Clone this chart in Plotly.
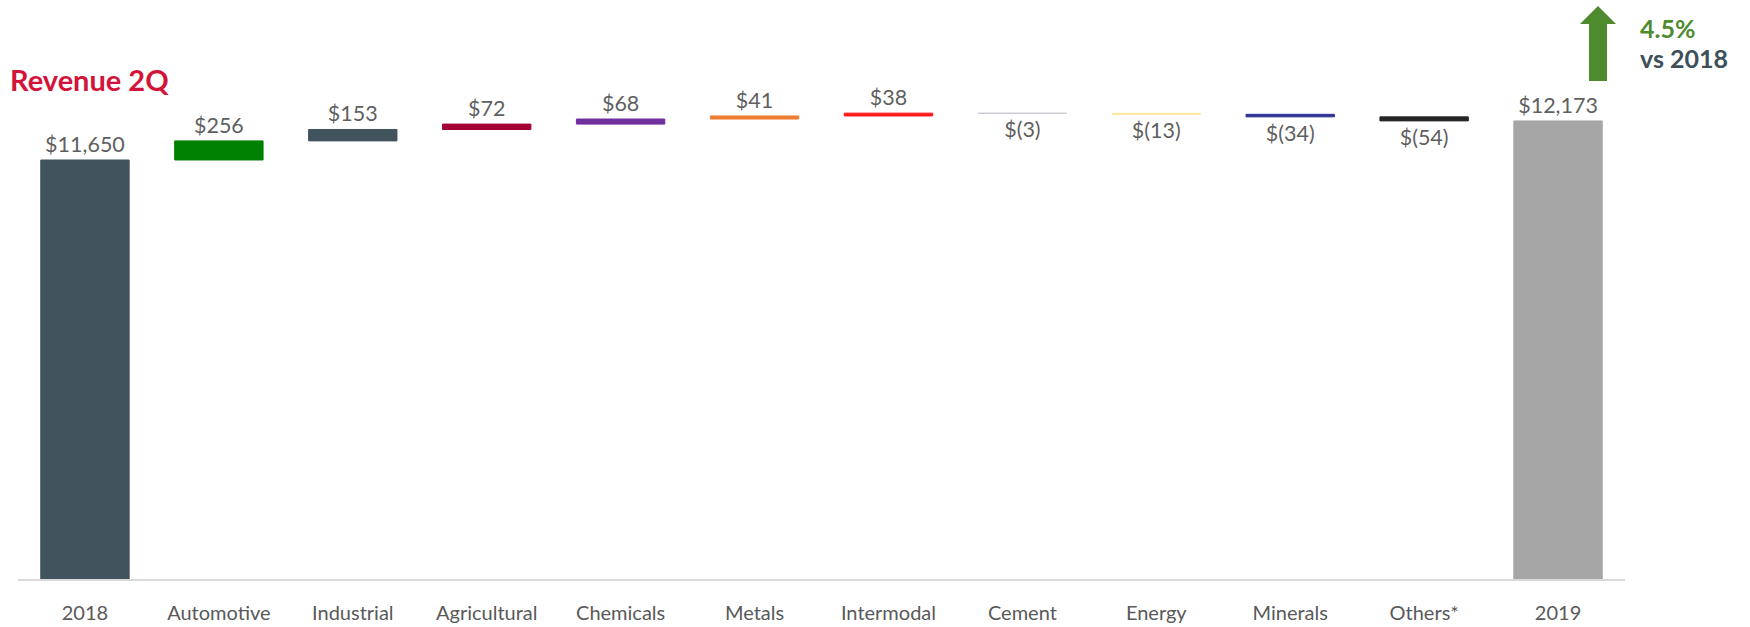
import numpy as np
import plotly.graph_objects as go

categories = ["2018", "Automotive", "Industrial", "Agricultural", "Chemicals", "Metals",
              "Intermodal", "Cement", "Energy", "Minerals", "Others*", "2019"]
start_value = 11650
changes = [256, 153, 72, 68, 41, 38, -3, -13, -34, -54]
end_value = 12173
bar_colors = ["#41535D", "#008000", "#41535D", "#A50034", "#7030A0", "#ED7D31",
              "#FF1A1A", "#C9C9D1", "#FFE699", "#2E3192", "#262626", "#A6A6A6"]
label_texts = ["$11,650", "$256", "$153", "$72", "$68", "$41", "$38",
               "$(3)", "$(13)", "$(34)", "$(54)", "$12,173"]

cum = start_value + np.concatenate([[0], np.cumsum(changes)[:-1]])
bases = [0] + list(cum) + [0]
heights = [start_value] + changes + [end_value]

fig = go.Figure()
fig.add_trace(go.Bar(
    x=categories, y=heights, base=bases,
    marker=dict(color=bar_colors, line=dict(color=bar_colors, width=1)),
    text=label_texts, textposition="outside", cliponaxis=False,
    textfont=dict(family="Lato", size=21.5, color="#5F5F5F"),
    hoverinfo="skip", width=0.66,
))

fig.update_layout(
    width=1750, height=627,
    margin=dict(l=18, r=125, t=0, b=48),
    paper_bgcolor="white", plot_bgcolor="white",
    showlegend=False,
    font=dict(family="Lato", color="#595959"),
    xaxis=dict(showline=True, linecolor="#D9D9D9", linewidth=2, showgrid=False,
               tickfont=dict(family="Lato", size=20, color="#595959"),
               ticklabelstandoff=15, fixedrange=True),
    yaxis=dict(range=[6035, 13794], visible=False, showgrid=False, fixedrange=True),
)

# Up arrow (decoration)
fig.add_shape(type="path", xref="paper", yref="paper",
              path="M 0.9776 0.8601 L 0.9776 0.9585 L 0.9720 0.9585 L 0.9832 0.9896 "
                   "L 0.9944 0.9585 L 0.9888 0.9585 L 0.9888 0.8601 Z",
              fillcolor="#4E8A2E", line=dict(width=0))

fig.add_annotation(xref="paper", yref="paper", x=1.0081, y=0.951,
                   xanchor="left", yanchor="middle", align="left", showarrow=False,
                   text="<b>4.5%</b>",
                   font=dict(family="Lato", size=25, color="#4E8A2E"))
fig.add_annotation(xref="paper", yref="paper", x=1.0081, y=0.900,
                   xanchor="left", yanchor="middle", align="left", showarrow=False,
                   text="<b>vs 2018</b>",
                   font=dict(family="Lato", size=25, color="#3D4F5A"))

fig.add_annotation(xref="paper", yref="paper", x=-0.0062, y=0.862,
                   xanchor="left", yanchor="middle", showarrow=False,
                   text="<b>Revenue 2Q</b>",
                   font=dict(family="Lato", size=29, color="#D2143A"))

fig.write_html("out.html", config={"displayModeBar": False},
               post_script="document.body.style.margin='0';document.body.style.overflow='hidden';")
